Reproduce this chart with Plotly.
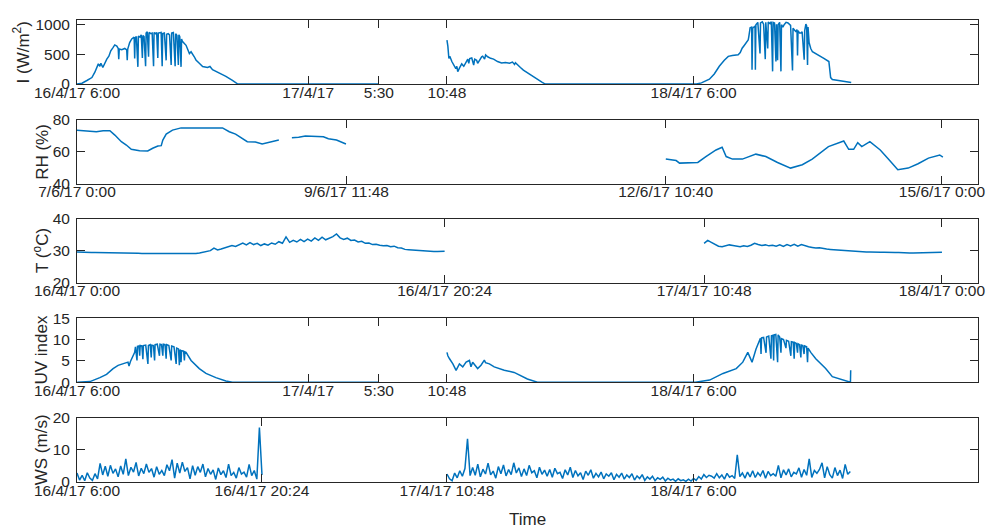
import datetime as dt
import plotly.graph_objects as go

# ---------------------------------------------------------------- data
# Hours are counted from 16/4/17 0:00 (April series) or 7/6/17 0:00 (RH).

# Solar irradiance I (W/m^2), 16/4 morning to 17/4 5:30
irr_a_hours = [6.00, 6.39, 6.77, 7.16, 7.39, 7.55, 7.66, 7.78, 7.86, 8.01,
               8.17, 8.32, 8.48, 8.63, 8.79, 8.94, 9.10, 9.21, 9.25, 9.29,
               9.48, 9.72, 9.87, 9.91, 9.95, 10.10, 10.26, 10.41, 10.45, 10.49,
               10.53, 10.62, 10.74, 10.78, 10.90, 11.00, 11.09, 11.13, 11.22, 11.34,
               11.38, 11.47, 11.57, 11.61, 11.75, 11.85, 11.96, 12.00, 12.10, 12.20,
               12.29, 12.33, 12.45, 12.55, 12.63, 12.67, 12.80, 12.94, 12.98, 13.10,
               13.20, 13.33, 13.37, 13.50, 13.64, 13.68, 13.78, 13.89, 13.93, 14.00,
               14.10, 14.14, 14.20, 14.49, 14.75, 14.88, 15.13, 15.26, 15.52, 15.78,
               16.16, 16.35, 16.55, 17.07, 17.59, 18.10, 18.52, 29.50]
irr_a_values = [0, 15, 60, 110, 200, 280, 340, 300, 350, 280,
                360, 420, 470, 560, 610, 660, 640, 600, 420, 590,
                580, 600, 575, 400, 590, 700, 760, 780, 790, 430,
                780, 800, 290, 810, 790, 830, 440, 820, 800, 300,
                860, 880, 460, 870, 850, 860, 300, 870, 850, 870,
                440, 860, 860, 870, 300, 850, 860, 400, 840, 850,
                830, 320, 860, 870, 300, 850, 820, 320, 830, 800,
                290, 760, 720, 653, 515, 545, 460, 406, 351, 296,
                280, 296, 241, 186, 131, 60, 0, 0]

# Solar irradiance, 17/4 10:48 to 18/4 evening
irr_b_hours = [34.80, 34.87, 34.95, 35.02, 35.18, 35.33, 35.49, 35.57, 35.64, 35.80,
               35.95, 36.11, 36.26, 36.42, 36.50, 36.57, 36.73, 36.88, 36.96, 37.11,
               37.19, 37.35, 37.50, 37.58, 37.73, 37.81, 37.97, 38.20, 38.43, 38.74,
               39.05, 39.36, 39.67, 39.90, 40.06, 40.13, 40.29, 40.52, 40.75, 41.06,
               41.45, 41.84, 42.22, 42.45, 54.22, 54.61, 54.99, 55.23, 55.61, 56.00,
               56.39, 56.70, 57.01, 57.32, 57.47, 57.63, 57.78, 57.94, 58.09, 58.25,
               58.30, 58.40, 58.52, 58.55, 58.60, 58.78, 58.81, 58.85, 59.00, 59.17,
               59.21, 59.35, 59.45, 59.58, 59.62, 59.77, 59.81, 59.95, 60.05, 60.15,
               60.19, 60.30, 60.41, 60.45, 60.54, 60.58, 60.70, 60.80, 60.84, 60.95,
               61.05, 61.20, 61.35, 61.44, 61.55, 61.70, 61.74, 61.90, 61.96, 62.05,
               62.09, 62.13, 62.25, 62.35, 62.45, 62.61, 62.65, 62.74, 62.80, 62.87,
               62.91, 62.99, 63.05, 63.12, 63.25, 63.75, 64.14, 64.53, 64.67, 64.80,
               66.27]
irr_b_values = [740, 640, 430, 470, 380, 320, 260, 300, 210, 280,
                340, 300, 370, 420, 350, 430, 440, 320, 420, 400,
                350, 420, 460, 470, 420, 490, 460, 434, 420, 380,
                355, 365, 350, 370, 330, 360, 323, 280, 235, 190,
                130, 80, 30, 0, 0, 20, 60, 82, 170, 300,
                400, 467, 480, 490, 495, 530, 604, 650, 700, 742,
                800, 950, 960, 241, 940, 980, 241, 1000, 1040, 516,
                1030, 1050, 1010, 420, 1040, 600, 1045, 1020, 1050, 214,
                1040, 1030, 380, 1010, 400, 1000, 1040, 214, 1000, 960,
                1000, 1040, 1030, 1010, 990, 230, 940, 900, 880, 920,
                480, 900, 860, 860, 880, 410, 900, 1010, 980, 320,
                960, 700, 640, 600, 545, 490, 434, 380, 109, 75,
                25]

# Relative humidity RH (%), hours from 7/6/17 0:00
rh_a_hours = [0, 2.87, 4.3, 5.8, 7.3, 8.4, 9.85, 10.95, 12.05, 13.9,
              15.7, 16.8, 17.95, 18.7, 19.05, 19.8, 21.2, 23.1, 27.1, 32.3,
              33.8, 35.2, 37.8, 39.6, 41.1, 42.6, 44.8]
rh_a_values = [73.4, 73.0, 72.4, 73.0, 73.0, 70.3, 66.2, 64.1, 61.4, 60.6,
               60.4, 62.1, 63.5, 63.7, 67.2, 70.9, 73.4, 74.8, 74.8, 74.8,
               72.4, 70.9, 66.2, 66.0, 64.7, 65.6, 67.2]
rh_b_hours = [47.7, 49.2, 50.7, 53.6, 54.7, 55.8, 57.6, 59.7]
rh_b_values = [68.7, 68.9, 69.7, 69.3, 69.3, 68.0, 67.2, 64.7]
rh_c_hours = [130.7, 133.0, 133.75, 135.95, 137.8, 139.6, 141.85, 143.2, 144.1, 145.5,
              147.7, 150.7, 152.9, 155.5, 158.4, 161.0, 163.2, 166.8, 170.2, 171.3,
              172.4, 173.3, 174.2, 176.0, 178.3, 180.1, 182.2, 184.5, 186.7, 189.0,
              191.5, 192.2]
rh_c_values = [55.3, 54.4, 52.8, 52.8, 53.2, 56.9, 61.0, 62.7, 56.9, 55.3,
               55.3, 58.4, 56.9, 53.2, 49.7, 51.8, 55.3, 63.1, 66.6, 61.4,
               61.4, 65.6, 63.1, 66.2, 61.0, 55.3, 48.7, 49.7, 52.4, 55.9,
               57.9, 56.5]

# Air temperature T (deg C), logged every 12 min
t_step_h = 0.2
t_a_start_h = 0.0
t_a_values = [29.6, 29.5, 29.5, 29.5, 29.4, 29.4, 29.4, 29.4, 29.3, 29.3,
              29.3, 29.3, 29.3, 29.2, 29.2, 29.2, 29.2, 29.2, 29.1, 29.1,
              29.1, 29.1, 29.0, 29.0, 29.0, 28.9, 28.9, 29.0, 29.0, 29.0,
              29.0, 29.0, 29.1, 29.1, 29.3,
              29.6, 29.9, 30.0, 30.8, 30.2, 30.5, 30.9, 31.2, 31.6, 31.3,
              31.9, 32.4, 31.8, 32.5, 31.9, 32.3, 31.6, 32.1, 31.7, 32.4,
              32.0, 32.8, 32.3, 34.3, 32.6, 33.2, 32.7, 33.5, 32.8, 33.6,
              33.0, 34.0, 33.2, 34.2, 33.4, 33.8, 34.4, 35.2, 34.0, 33.5,
              33.9, 33.2, 33.3, 32.7, 32.9, 32.3, 32.4, 31.9, 32.0, 31.7,
              31.5, 31.6, 31.2, 31.4, 30.9, 30.8, 30.4, 30.3, 30.2, 30.0,
              30.0, 29.9, 29.8, 29.8, 29.7, 29.7, 29.8, 29.8]
t_b_start_h = 34.8
t_b_values = [32.3, 33.2, 32.6, 31.9, 31.4, 31.2, 31.5, 31.8, 31.6, 31.4,
              31.2, 31.5, 31.3, 31.7, 32.3, 31.9, 31.6, 31.8, 31.5, 31.7,
              31.4, 31.8, 31.3, 31.9, 31.5, 32.0, 31.4, 31.9, 31.5, 31.2,
              31.0, 30.8, 30.9, 30.6, 30.5, 30.4, 30.3, 30.3, 30.2, 30.1,
              30.0, 29.9, 29.8, 29.7, 29.7, 29.6, 29.6, 29.5, 29.5, 29.5,
              29.5, 29.4, 29.4, 29.4, 29.4, 29.3, 29.3, 29.3, 29.3, 29.3,
              29.3, 29.3, 29.4, 29.4, 29.4, 29.5, 29.5]

# UV index
uv_a_hours = [6.02, 7.01, 7.78, 8.30, 8.81, 9.20, 9.97, 10.05, 10.16, 10.49,
              10.55, 10.67, 10.71, 10.82, 10.88, 10.92, 11.05, 11.13, 11.17, 11.35,
              11.52, 11.56, 11.70, 11.78, 11.82, 11.95, 12.04, 12.08, 12.25, 12.42,
              12.46, 12.58, 12.68, 12.72, 12.85, 12.94, 12.98, 13.15, 13.33, 13.37,
              13.55, 13.72, 13.76, 13.90, 13.97, 14.01, 14.06, 14.10, 14.14, 14.30,
              14.36, 14.40, 14.49, 14.88, 15.13, 15.52, 16.04, 16.81, 17.59, 18.10,
              29.50]
uv_a_values = [0, 0.15, 1.07, 1.83, 3.2, 3.96, 4.72, 3.8, 4.87, 7.0,
               8.3, 5.1, 8.4, 8.5, 6.2, 8.6, 8.5, 5.4, 8.6, 8.7,
               4.3, 8.6, 8.8, 5.8, 8.7, 8.6, 5.1, 8.8, 8.9, 6.2,
               8.9, 8.8, 6.2, 8.9, 8.8, 5.5, 8.8, 8.6, 5.1, 8.5,
               8.3, 4.3, 8.0, 7.8, 4.0, 7.6, 7.5, 4.7, 7.4, 7.3,
               5.1, 7.1, 7.0, 5.1, 4.3, 3.2, 2.06, 1.07, 0.3, 0,
               0]
uv_b_hours = [34.80, 34.87, 35.00, 35.26, 35.51, 35.77, 36.03, 36.29, 36.55, 36.67,
              36.80, 37.19, 37.45, 37.71, 37.80, 38.10, 38.48, 39.26, 40.03, 41.06,
              41.84, 54.14, 55.25, 56.29, 57.32, 57.83, 58.22, 58.55, 58.86, 59.12,
              59.20, 59.25, 59.29, 59.45, 59.64, 59.68, 59.85, 60.02, 60.06, 60.18,
              60.23, 60.27, 60.40, 60.54, 60.58, 60.70, 60.80, 60.84, 61.00, 61.19,
              61.23, 61.40, 61.57, 61.61, 61.75, 61.83, 61.87, 62.00, 62.09, 62.13,
              62.25, 62.35, 62.39, 62.50, 62.60, 62.64, 62.80, 62.87, 62.91, 63.00,
              63.12, 63.51, 64.28, 64.80, 65.57, 66.21, 66.23]
uv_b_values = [7.0, 6.2, 5.5, 4.3, 2.8, 4.3, 3.6, 4.7, 5.1, 3.6,
               4.7, 3.2, 4.0, 5.2, 4.6, 4.3, 3.6, 2.8, 2.3, 0.76,
               0, 0, 0.5, 2.06, 3.2, 4.7, 7.0, 4.7, 7.8, 10.0,
               10.3, 6.6, 10.4, 10.5, 6.9, 10.6, 10.8, 5.5, 10.9, 11.0,
               5.1, 11.1, 11.2, 4.7, 11.1, 10.6, 6.9, 10.2, 10.0, 8.0,
               9.8, 9.6, 6.2, 9.5, 9.4, 5.5, 9.3, 9.1, 6.9, 9.0,
               8.8, 5.8, 8.7, 8.6, 6.6, 8.5, 8.3, 4.7, 8.0, 7.6,
               7.0, 5.5, 3.2, 1.3, 0.5, 0, 2.8]

# Wind speed WS (m/s), logged every 12 min
ws_step_h = 0.2
ws_a_start_h = 6.0
ws_a_values = [2.8, 0.6, 2.1, 0.4, 2.9, 1.2, 0.5, 2.6, 1.0,
               5.8, 2.2, 4.9, 1.8, 5.2, 2.7, 4.1,
               1.6, 5.0, 2.4, 7.2, 2.0, 4.6, 3.1, 6.1, 1.9, 4.3,
               2.6, 5.6, 3.0, 4.2, 1.5, 4.8, 2.4, 3.6, 2.0, 5.4,
               3.5, 7.0, 1.2, 5.9, 2.8, 6.2, 3.3, 4.5, 1.0, 5.1,
               2.1, 4.8, 3.0, 5.6, 1.6, 4.2, 2.4, 3.8, 0.8, 4.4,
               2.3, 3.5, 1.4, 5.6, 2.0, 3.0, 1.2, 4.5, 2.5, 3.1,
               1.5, 5.5, 2.0, 3.6, 0.9, 17.0, 2.2]
ws_b_start_h = 34.8
ws_b_values = [2.5, 1.0, 0.4, 2.8, 1.3, 3.5, 1.8, 4.2, 13.5, 2.0,
               4.5, 2.1, 5.6, 1.6, 4.0, 2.5, 5.9, 2.2, 3.4, 1.2,
               4.8, 2.6, 5.3, 1.9, 3.9, 2.3, 6.0, 2.8, 4.4, 1.7,
               4.1, 2.0, 5.2, 2.9, 3.5, 1.3, 4.6, 2.4, 3.7, 1.8,
               3.9, 1.5, 4.3, 2.6, 3.0, 1.1, 3.8, 2.2, 4.6, 1.4,
               3.6, 1.9, 2.9, 0.8, 3.4, 2.1, 3.8, 1.2, 2.7, 1.6,
               3.1, 1.0, 2.5, 1.8, 2.9, 0.7, 2.4, 1.5, 2.8, 0.9,
               2.2, 1.4, 2.6, 0.6, 1.9, 1.1, 2.3, 0.5, 1.6, 0.9,
               1.8, 0.4, 1.3, 0.8, 1.5, 0.3, 1.2, 0.6, 0.9, 0.2,
               1.0, 0.4, 0.7, 0.2, 0.9, 0.3, 1.1, 0.5, 1.7, 0.9,
               2.3, 1.4, 2.1, 1.8, 1.2, 2.6, 1.3, 2.2, 0.9, 2.7,
               1.5, 2.0, 1.1, 8.5, 1.7, 2.8, 1.2, 3.1, 1.6, 3.5,
               1.4, 2.9, 1.9, 3.6, 1.2, 3.3, 2.0, 2.6, 1.8, 5.2,
               1.3, 3.8, 2.2, 4.1, 1.6, 3.0, 2.5, 4.4, 1.5, 3.9,
               2.1, 7.2, 1.4, 3.6, 2.7, 3.9, 6.0, 1.3, 4.8, 2.3,
               1.2, 4.5, 2.0, 3.7, 1.1, 5.5, 2.4, 3.3]

# Axis tick labels
april_tick_times = ["2017-04-16 06:00", "2017-04-17 00:00", "2017-04-17 05:30",
                    "2017-04-17 10:48", "2017-04-18 06:00"]
april_tick_text = ["16/4/17 6:00", "17/4/17", "5:30", "10:48", "18/4/17 6:00"]
rh_tick_times = ["2017-06-07 00:00", "2017-06-09 11:48", "2017-06-12 10:40",
                 "2017-06-15 00:00"]
rh_tick_text = ["7/6/17 0:00", "9/6/17 11:48", "12/6/17 10:40", "15/6/17 0:00"]
t_tick_times = ["2017-04-16 00:00", "2017-04-16 20:24", "2017-04-17 10:48",
                "2017-04-18 00:00"]
t_tick_text = ["16/4/17 0:00", "16/4/17 20:24", "17/4/17 10:48", "18/4/17 0:00"]
ws_tick_times = ["2017-04-16 06:00", "2017-04-16 20:24", "2017-04-17 10:48",
                 "2017-04-18 06:00"]
ws_tick_text = ["16/4/17 6:00", "16/4/17 20:24", "17/4/17 10:48", "18/4/17 6:00"]

# ---------------------------------------------------------------- helpers
APR16 = dt.datetime(2017, 4, 16)
JUN7 = dt.datetime(2017, 6, 7)
BLUE = "#0072BD"
INK = "#262626"
FONT = "Liberation Sans, Arial, Helvetica, sans-serif"


def stamps(base, hours):
    return [base + dt.timedelta(hours=h) for h in hours]


def grid(start_h, step_h, n):
    return [start_h + step_h * k for k in range(n)]


def joined(base, segments):
    """Concatenate (hours, values) segments, breaking the line between them."""
    xs, ys = [], []
    for hours, values in segments:
        if len(hours) != len(values):
            raise ValueError("segment length mismatch")
        if xs:
            xs.append(None)
            ys.append(None)
        xs.extend(stamps(base, hours))
        ys.extend(values)
    return xs, ys


series = [
    joined(APR16, [(irr_a_hours, irr_a_values), (irr_b_hours, irr_b_values)]),
    joined(JUN7, [(rh_a_hours, rh_a_values), (rh_b_hours, rh_b_values),
                  (rh_c_hours, rh_c_values)]),
    joined(APR16, [(grid(t_a_start_h, t_step_h, len(t_a_values)), t_a_values),
                   (grid(t_b_start_h, t_step_h, len(t_b_values)), t_b_values)]),
    joined(APR16, [(uv_a_hours, uv_a_values), (uv_b_hours, uv_b_values)]),
    joined(APR16, [(grid(ws_a_start_h, ws_step_h, len(ws_a_values)), ws_a_values),
                   (grid(ws_b_start_h, ws_step_h, len(ws_b_values)), ws_b_values)]),
]

april_span = [APR16 + dt.timedelta(hours=6), APR16 + dt.timedelta(hours=76.14)]
x_ranges = [april_span,
            [JUN7, JUN7 + dt.timedelta(hours=200)],
            [APR16, APR16 + dt.timedelta(hours=50)],
            april_span,
            april_span]
x_ticks = [(april_tick_times, april_tick_text), (rh_tick_times, rh_tick_text),
           (t_tick_times, t_tick_text), (april_tick_times, april_tick_text),
           (ws_tick_times, ws_tick_text)]
y_ranges = [[0, 1080], [40, 80], [20, 40], [0, 15], [0, 20]]
y_ticks = [[0, 500, 1000], [40, 60, 80], [20, 30, 40], [0, 5, 10, 15], [0, 10, 20]]
y_titles = ["I (W/m<sup>2</sup>)", "RH (%)", "T (<sup>o</sup>C)", "UV index", "WS (m/s)"]
y_title_px = [21, 42, 40, 41, 42]

# ---------------------------------------------------------------- figure
W, H = 996, 530
ML, MR, MT, MB = 77, 11, 11, 48
plot_w, plot_h = W - ML - MR, H - MT - MB
panel_tops = [11, 112.5, 213.5, 315, 416.7]
panel_h = 65.3


def frac_y(px):
    return (H - MB - px) / plot_h


fig = go.Figure()
layout = dict(
    width=W, height=H,
    margin=dict(l=ML, r=MR, t=MT, b=MB),
    paper_bgcolor="white", plot_bgcolor="white",
    showlegend=False, hovermode=False,
    font=dict(family=FONT, size=15.5, color=INK),
)
annotations = []

for i, (xs, ys) in enumerate(series):
    n = i + 1
    suffix = "" if n == 1 else str(n)
    fig.add_trace(go.Scatter(
        x=xs, y=ys, mode="lines", connectgaps=False,
        line=dict(color=BLUE, width=1.5),
        xaxis="x" + suffix, yaxis="y" + suffix,
    ))
    top = panel_tops[i]
    lo, hi = frac_y(top + panel_h), frac_y(top)
    common = dict(
        showline=True, linecolor=INK, linewidth=1, mirror="ticks",
        ticks="inside", ticklen=8, tickwidth=1, tickcolor=INK,
        showgrid=False, zeroline=False,
        tickfont=dict(family=FONT, size=15.5, color=INK),
    )
    tv, tt = x_ticks[i]
    layout["xaxis" + suffix] = dict(
        common, type="date", domain=[0, 1], anchor="y" + suffix,
        range=x_ranges[i], tickmode="array", tickvals=tv, ticktext=tt,
        tickangle=0, ticklabelstandoff=-6,
    )
    layout["yaxis" + suffix] = dict(
        common, domain=[lo, hi], anchor="x" + suffix,
        range=y_ranges[i], tickmode="array", tickvals=y_ticks[i],
        ticklabelstandoff=3,
    )
    annotations.append(dict(
        text=y_titles[i], textangle=-90, showarrow=False,
        xref="paper", yref="paper",
        x=(y_title_px[i] - ML) / plot_w, y=(lo + hi) / 2,
        xanchor="center", yanchor="middle",
        font=dict(family=FONT, size=17, color=INK),
    ))

annotations.append(dict(
    text="Time", showarrow=False, xref="paper", yref="paper",
    x=0.5, y=frac_y(520), xanchor="center", yanchor="middle",
    font=dict(family=FONT, size=17, color=INK),
))
layout["annotations"] = annotations
fig.update_layout(**layout)

fig.write_html("out.html")
